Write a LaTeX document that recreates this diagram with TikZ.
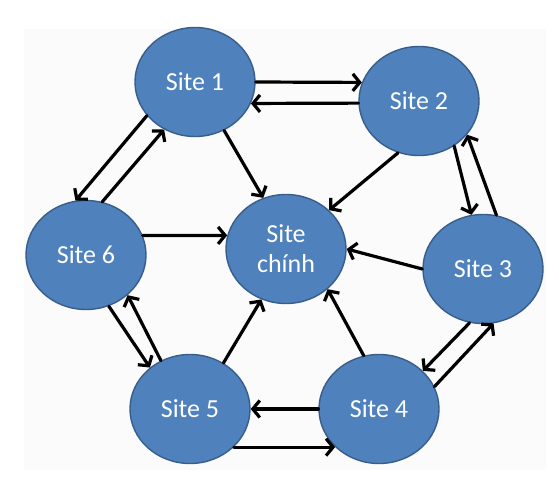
\documentclass[tikz,border=0pt]{standalone}
\usepackage{fontspec}
\setmainfont{Carlito}
\usetikzlibrary{shapes.geometric,arrows.meta}
\definecolor{nodeblue}{RGB}{79,129,189}
\definecolor{nodeedge}{RGB}{56,93,138}
\definecolor{panel}{RGB}{251,251,251}
\begin{document}
\begin{tikzpicture}[x=1pt,y=-1pt,
  site/.style={ellipse, draw=nodeedge, line width=1.4pt, fill=nodeblue,
    minimum width=120pt, minimum height=109pt, inner sep=0pt,
    text=white, font=\fontsize{26}{30}\selectfont, align=center},
  flow/.style={line width=3.2pt, line cap=round,
    -{Straight Barb[length=7pt,width=17pt]}}]
\useasboundingbox (0,0) rectangle (559,492);
\fill[panel] (24,29) rectangle (546,470);

\node[site] (s1) at (195,82)  {Site 1};
\node[site] (s2) at (419,101) {Site 2};
\node[site] (s6) at (86,255)  {Site 6};
\node[site] (sc) at (286,249) {Site\\chính};
\node[site] (s3) at (483,269) {Site 3};
\node[site] (s5) at (190,409) {Site 5};
\node[site] (s4) at (379,409) {Site 4};

\draw[flow] (s1.0)    -- (s2.162);
\draw[flow] (s2.182)  -- (s1.-21);
\draw[flow] (s1.-59)  -- (sc.114);
\draw[flow] (s1.215)  -- (s6.101);
\draw[flow] (s6.73)   -- (s1.237);
\draw[flow] (s2.248)  -- (sc.42);
\draw[flow] (s2.-52)  -- (s3.102);
\draw[flow] (s3.76)   -- (s2.-35);
\draw[flow] (s6.19)   -- (sc.167);
\draw[flow] (s3.180)  -- (sc.0);
\draw[flow] (s6.-66)  -- (s5.134);
\draw[flow] (s5.121)  -- (s6.-44);
\draw[flow] (s5.54)   -- (sc.244);
\draw[flow] (s4.106)  -- (sc.-44);
\draw[flow] (s3.256)  -- (s4.41);
\draw[flow] (s4.22)   -- (s3.-79);
\draw[flow] (s4.180)  -- (s5.0);
\draw[flow] (s5.-41)  -- (s4.-139);
\end{tikzpicture}
\end{document}
